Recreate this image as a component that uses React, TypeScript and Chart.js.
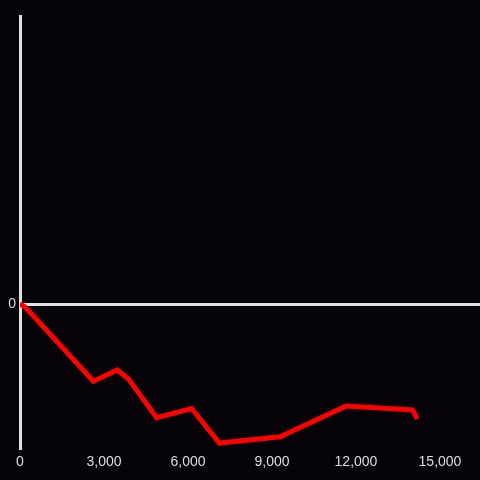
import React, { useEffect, useRef } from "react";
import { Chart, registerables } from "chart.js";

Chart.register(...registerables);

const xValues = [0, 180, 2620, 3480, 3870, 4880, 6130, 7120, 9290, 11650, 14020, 14190];
const yValues = [0, -1.0, -26.8, -22.9, -26.0, -39.5, -36.3, -48.3, -46.1, -35.4, -36.8, -39.9];
const xTicks = [0, 3000, 6000, 9000, 12000, 15000];
const yTicks = [0];

export default function App() {
  const ref = useRef<HTMLCanvasElement | null>(null);
  useEffect(() => {
    const ctx = ref.current!;
    const chart = new Chart(ctx, {
      type: "line",
      data: {
        datasets: [
          {
            data: xValues.map((x, i) => ({ x, y: yValues[i] })),
            borderColor: "#ff0000",
            borderWidth: 5,
            pointRadius: 0,
            fill: false,
            tension: 0,
            borderJoinStyle: "miter",
          },
        ],
      },
      options: {
        animation: false,
        responsive: false,
        maintainAspectRatio: false,
        layout: { padding: { top: 16, right: 0, left: 0, bottom: 0 } },
        plugins: { legend: { display: false }, tooltip: { enabled: false } },
        scales: {
          x: {
            type: "linear",
            min: 0,
            max: 16430,
            afterBuildTicks: (s: any) => {
              s.ticks = xTicks.map((v) => ({ value: v }));
            },
            afterFit: (s: any) => {
              s.height = 32;
            },
            grid: { display: false, drawTicks: false },
            border: { display: false },
            ticks: {
              padding: 6,
              color: "#dddddd",
              font: { size: 14, family: "Liberation Sans, Arial, sans-serif" },
              maxRotation: 0,
              autoSkip: false,
              callback: (v: any) => Number(v).toLocaleString("en-US"),
            },
          },
          y: {
            type: "linear",
            min: -50,
            max: 100,
            afterBuildTicks: (s: any) => {
              s.ticks = yTicks.map((v) => ({ value: v }));
            },
            afterFit: (s: any) => {
              s.width = 20;
            },
            grid: {
              drawTicks: false,
              color: "#e0e0e0",
              lineWidth: 3,
            },
            border: { display: true, color: "#e0e0e0", width: 3 },
            ticks: {
              padding: 4,
              color: "#dddddd",
              font: { size: 14, family: "Liberation Sans, Arial, sans-serif" },
            },
          },
        },
      },
    });
    return () => chart.destroy();
  }, []);
  return (
    <div
      style={{
        position: "fixed",
        left: 0,
        top: 0,
        width: 480,
        height: 480,
        background: "#050307",
      }}
    >
      <canvas ref={ref} width={480} height={480} style={{ display: "block" }} />
    </div>
  );
}
